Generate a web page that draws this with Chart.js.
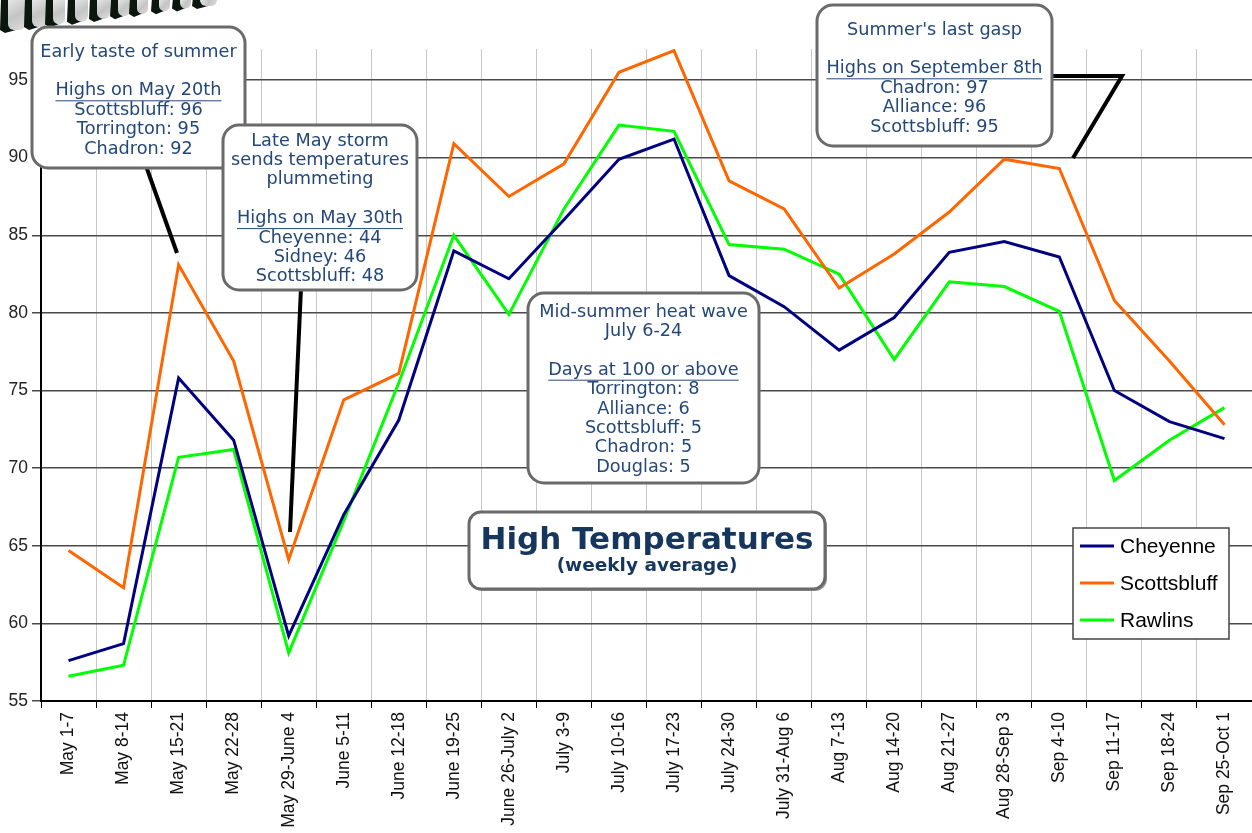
<!DOCTYPE html>
<html>
<head>
<meta charset="utf-8">
<title>High Temperatures</title>
<script src="https://cdn.jsdelivr.net/npm/chart.js@4"></script>
<style>
  html, body { margin: 0; padding: 0; background: #fff; }
  canvas { display: block; }
</style>
</head>
<body>
<canvas id="chart" width="1252" height="833"></canvas>
<script>
/* ── Data ─────────────────────────────────── */
const weeks = [
  'May 1-7', 'May 8-14', 'May 15-21', 'May 22-28', 'May 29-June 4', 'June 5-11',
  'June 12-18', 'June 19-25', 'June 26-July 2', 'July 3-9', 'July 10-16', 'July 17-23',
  'July 24-30', 'July 31-Aug 6', 'Aug 7-13', 'Aug 14-20', 'Aug 21-27', 'Aug 28-Sep 3',
  'Sep 4-10', 'Sep 11-17', 'Sep 18-24', 'Sep 25-Oct 1',
];
const cheyenne    = [57.6, 58.7, 75.8, 71.8, 59.2, 67.0, 73.1, 84.0, 82.2, 86.0, 89.9, 91.2, 82.4, 80.4, 77.6, 79.7, 83.9, 84.6, 83.6, 75.0, 73.0, 71.9];
const scottsbluff = [64.7, 62.3, 83.1, 76.9, 64.1, 74.4, 76.1, 90.9, 87.5, 89.6, 95.5, 96.9, 88.5, 86.7, 81.6, 83.8, 86.5, 89.9, 89.3, 80.8, 76.9, 72.8];
const rawlins     = [56.6, 57.3, 70.7, 71.2, 58.1, 66.6, 75.5, 85.0, 79.9, 86.7, 92.1, 91.7, 84.4, 84.1, 82.5, 77.0, 82.0, 81.7, 80.1, 69.2, 71.8, 73.9];
const seriesNames = ['Cheyenne', 'Scottsbluff', 'Rawlins'];
const yTicks      = [55, 60, 65, 70, 75, 80, 85, 90, 95];

const COLORS = ['#000080', '#ff6600', '#00ff00'];
const BOX_TEXT = '#24477a';
const BOX_FONT = '17.7px "DejaVu Sans", Verdana, sans-serif';

/* ── Callout notes ────────────────────────── */
const notes = [
  { x: 32, y: 27, w: 213, h: 141, top: 52,
    lines: ['Early taste of summer', '', '_Highs on May 20th', 'Scottsbluff: 96', 'Torrington: 95', 'Chadron: 92'],
    pointer: [[146, 166], [177, 253]] },
  { x: 223, y: 125, w: 194, h: 165, top: 141,
    lines: ['Late May storm', 'sends temperatures', 'plummeting', '', '_Highs on May 30th', 'Cheyenne: 44', 'Sidney: 46', 'Scottsbluff: 48'],
    pointer: [[301, 288], [290, 532]] },
  { x: 528, y: 293, w: 231, h: 190, top: 312,
    lines: ['Mid-summer heat wave', 'July 6-24', '', '_Days at 100 or above', 'Torrington: 8', 'Alliance: 6', 'Scottsbluff: 5', 'Chadron: 5', 'Douglas: 5'],
    pointer: null },
  { x: 817, y: 5, w: 235, h: 141, top: 30,
    lines: ["Summer's last gasp", '', '_Highs on September 8th', 'Chadron: 97', 'Alliance: 96', 'Scottsbluff: 95'],
    pointer: [[1050, 76], [1122, 76], [1073, 158]] },
];

// light faces of the clipped banner lettering, top-left corner
const bannerBlocks = [[8, 25], [32, 47], [53, 65], [75, 88], [97, 110], [118, 130], [137, 148], [159, 170], [180, 191], [200, 217]];

function roundBox(ctx, x, y, w, h, r) {
  ctx.beginPath();
  ctx.moveTo(x + r, y);
  ctx.arcTo(x + w, y, x + w, y + h, r);
  ctx.arcTo(x + w, y + h, x, y + h, r);
  ctx.arcTo(x, y + h, x, y, r);
  ctx.arcTo(x, y, x + w, y, r);
  ctx.closePath();
}

function drawBannerScrap(ctx) {
  ctx.save();
  bannerBlocks.forEach(([x0, x1]) => {
    const b = 31 - x0 * 0.125;
    ctx.fillStyle = '#0b160e';
    ctx.beginPath();
    ctx.moveTo(x0 - 7, -2);
    ctx.lineTo(x1, -2);
    ctx.lineTo(x1 - 2, b - 2);
    ctx.lineTo(x0 - 3, b + 3);
    ctx.lineTo(x0 - 8, b);
    ctx.closePath();
    ctx.fill();
    const g = ctx.createLinearGradient(x0, 0, x1, b);
    g.addColorStop(0, '#e6e6e6');
    g.addColorStop(0.5, '#c4c4c4');
    g.addColorStop(1, '#dcdcdc');
    ctx.fillStyle = g;
    roundBox(ctx, x0, -10, x1 - x0, b + 10, Math.min(6, (x1 - x0) / 2));
    ctx.fill();
  });
  ctx.restore();
}

const notesPlugin = {
  id: 'notes',
  afterDraw(chart) {
    const ctx = chart.ctx;
    ctx.save();

    drawBannerScrap(ctx);

    // pointers first, boxes sit on top of them
    ctx.strokeStyle = '#000';
    ctx.lineWidth = 4;
    notes.forEach(n => {
      if (!n.pointer) return;
      ctx.beginPath();
      n.pointer.forEach(([px, py], i) => i ? ctx.lineTo(px, py) : ctx.moveTo(px, py));
      ctx.stroke();
    });

    notes.forEach(n => {
      roundBox(ctx, n.x, n.y, n.w, n.h, 16);
      ctx.fillStyle = '#fff';
      ctx.fill();
      ctx.strokeStyle = '#6a6a6a';
      ctx.lineWidth = 3;
      ctx.stroke();

      ctx.fillStyle = BOX_TEXT;
      ctx.strokeStyle = BOX_TEXT;
      ctx.font = BOX_FONT;
      ctx.textAlign = 'center';
      ctx.textBaseline = 'middle';
      const cx = n.x + n.w / 2;
      n.lines.forEach((line, i) => {
        if (!line) return;
        const y = n.top + i * 19.4;
        const underline = line.startsWith('_');
        const txt = underline ? line.slice(1) : line;
        ctx.fillText(txt, cx, y);
        if (underline) {
          const tw = ctx.measureText(txt).width;
          ctx.lineWidth = 1;
          ctx.beginPath();
          ctx.moveTo(cx - tw / 2, y + 10);
          ctx.lineTo(cx + tw / 2, y + 10);
          ctx.stroke();
        }
      });
    });

    // title panel
    roundBox(ctx, 471, 514, 356, 77, 12);
    ctx.fillStyle = '#9a9a9a';
    ctx.fill();
    roundBox(ctx, 469, 512, 356, 77, 12);
    ctx.fillStyle = '#fff';
    ctx.fill();
    ctx.strokeStyle = '#6a6a6a';
    ctx.lineWidth = 3;
    ctx.stroke();
    ctx.fillStyle = '#17365d';
    ctx.textAlign = 'center';
    ctx.textBaseline = 'middle';
    ctx.font = 'bold 31px "DejaVu Sans", Verdana, sans-serif';
    ctx.fillText('High Temperatures', 647, 541);
    ctx.font = 'bold 18.5px "DejaVu Sans", Verdana, sans-serif';
    ctx.fillText('(weekly average)', 647, 566);

    // legend
    const lx = 1073, ly = 528, lw = 156, lh = 111;
    ctx.fillStyle = '#fff';
    ctx.fillRect(lx, ly, lw, lh);
    ctx.strokeStyle = '#444';
    ctx.lineWidth = 1.5;
    ctx.strokeRect(lx, ly, lw, lh);
    ctx.textAlign = 'left';
    ctx.font = '21px "Liberation Sans", Arial, sans-serif';
    chart.data.datasets.forEach((ds, i) => {
      const y = ly + 18 + i * 37;
      ctx.strokeStyle = ds.borderColor;
      ctx.lineWidth = 3;
      ctx.beginPath();
      ctx.moveTo(lx + 7, y);
      ctx.lineTo(lx + 41, y);
      ctx.stroke();
      ctx.fillStyle = '#000';
      ctx.fillText(ds.label, lx + 47, y + 1);
    });

    ctx.restore();
  },
};

const tickFont = { family: '"Liberation Sans", Arial, sans-serif', size: 17.5 };

new Chart(document.getElementById('chart'), {
  type: 'line',
  data: {
    labels: weeks,
    datasets: [cheyenne, scottsbluff, rawlins].map((d, i) => ({
      label: seriesNames[i],
      data: d,
      borderColor: COLORS[i],
      backgroundColor: COLORS[i],
      borderWidth: 3,
      pointRadius: 0,
      tension: 0,
      fill: false,
    })),
  },
  options: {
    responsive: false,
    animation: false,
    layout: { padding: { top: 49, right: -4, left: 0, bottom: 0 } },
    plugins: { legend: { display: false }, tooltip: { enabled: false } },
    scales: {
      x: {
        offset: true,
        grid: { offset: true, color: '#c8c8c8', lineWidth: 1, tickColor: '#000', tickLength: 7 },
        border: { color: '#000', width: 2 },
        ticks: { color: '#111', font: tickFont, minRotation: 90, maxRotation: 90, autoSkip: false, padding: 4 },
        afterFit: s => { s.height = 132; },
      },
      y: {
        min: 55,
        max: 97,
        afterBuildTicks: s => { s.ticks = yTicks.map(v => ({ value: v })); },
        grid: { color: '#4a4a4a', lineWidth: 1.5, tickColor: '#4a4a4a', tickLength: 9 },
        border: { color: '#000', width: 2 },
        ticks: { color: '#222', font: tickFont, padding: 4 },
        afterFit: s => { s.width = 41; },
      },
    },
  },
  plugins: [notesPlugin],
});
</script>
</body>
</html>
